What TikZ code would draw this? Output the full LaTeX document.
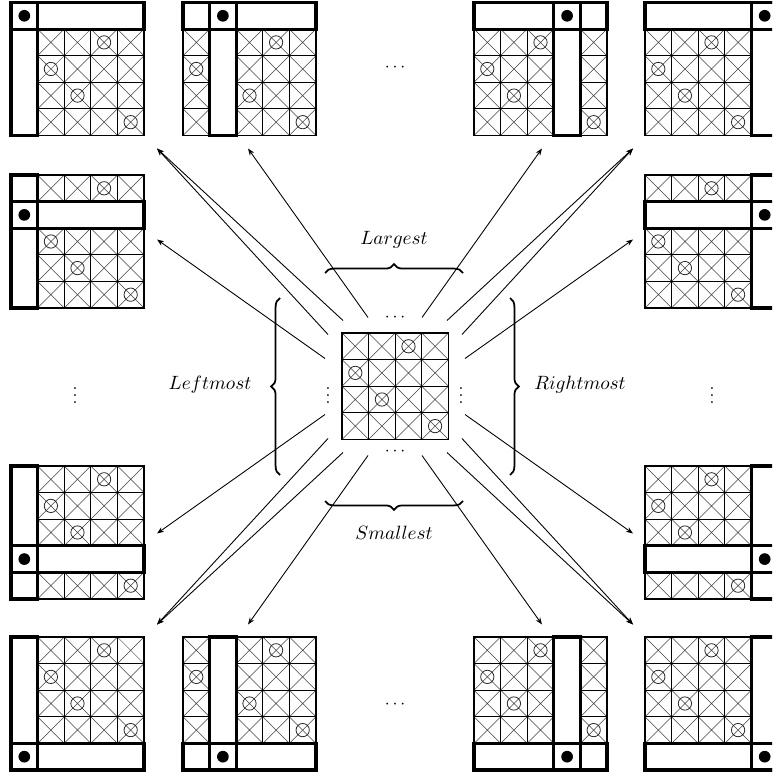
\documentclass[tikz,border=0pt]{standalone}
\usetikzlibrary{arrows.meta,decorations.pathreplacing}

% 4x4 grid of crossed cells; #1 = inserted column, #2 = inserted row (9 = none)
\newcommand{\crossgrid}[2]{%
  \foreach \k in {0,...,3}{
    \foreach \l in {0,...,3}{
      \pgfmathtruncatemacro\pc{\k+(\k>=#1)}
      \pgfmathtruncatemacro\pr{\l+(\l>=#2)}
      \draw[diag] (\pc,\pr) -- ++(1,1) (\pc+1,\pr) -- ++(-1,1);
      \draw[cell] (\pc,\pr) rectangle ++(1,1);
    }
  }
  \foreach \k/\l in {2/0,0/1,1/2,3/3}{
    \pgfmathtruncatemacro\pc{\k+(\k>=#1)}
    \pgfmathtruncatemacro\pr{\l+(\l>=#2)}
    \draw[ring] (\pc+.5,\pr+.5) circle[radius=.25];
  }
}

% grid with one extra row and column; #1 name, (#2,#3) top left, #4 column, #5 row
\newcommand{\panel}[5]{%
  \begin{scope}[shift={(#2,#3)}, x=0.532cm, y=-0.532cm]
    \coordinate (#1) at (2.5,2.5);
    \crossgrid{#4}{#5}
    \draw[band] (#4,0) rectangle ++(1,5);
    \draw[band] (0,#5) rectangle ++(5,1);
    \fill (#4+.5,#5+.5) circle[radius=.22];
  \end{scope}
}

\begin{document}
\begin{tikzpicture}[
  x=0.02cm, y=-0.02cm,
  cell/.style={line width=.7pt},
  diag/.style={line width=.3pt, black!75},
  ring/.style={line width=.45pt, black!85},
  band/.style={line width=1.8pt},
  arrow/.style={-{Stealth[length=4pt, width=3pt]}, line width=.5pt},
  curly/.style={decorate, decoration={brace, amplitude=5pt}, line width=1pt},
  label/.style={font=\fontsize{11}{13}\selectfont}
]
  \useasboundingbox (0,0) rectangle (772,776);
  \clip (0,0) rectangle (772,776);

  \panel{p11}{11}{2.5}{0}{0}
  \panel{p12}{183}{2.5}{1}{0}
  \panel{p13}{474}{2.5}{3}{0}
  \panel{p14}{645}{2.5}{4}{0}
  \panel{p21}{11}{175}{0}{1}
  \panel{p24}{645}{175}{4}{1}
  \panel{p31}{11}{466}{0}{3}
  \panel{p34}{645}{466}{4}{3}
  \panel{p41}{11}{637}{0}{4}
  \panel{p42}{183}{637}{1}{4}
  \panel{p43}{474}{637}{3}{4}
  \panel{p44}{645}{637}{4}{4}

  \begin{scope}[shift={(342,333)}, x=0.532cm, y=-0.532cm]
    \crossgrid{9}{9}
  \end{scope}
  \coordinate (m) at (395,386.5);

  \node (up) at (395,318) {$\cdots$};
  \node (down) at (395,452) {$\cdots$};
  \node (left) at (328,390) {$\vdots$};
  \node (right) at (461,390) {$\vdots$};
  \node (top) at (395,68) {$\cdots$};
  \node (bottom) at (395,705) {$\cdots$};
  \node (west) at (75,390) {$\vdots$};
  \node (east) at (712,390) {$\vdots$};

  \draw[curly] (325,273) -- (463,273);
  \draw[curly] (463,501) -- (325,501);
  \draw[curly] (280,475) -- (280,298);
  \draw[curly] (510,298) -- (510,475);
  \node[label] (largest) at (394,240) {$Largest$};
  \node[label] (smallest) at (394,533) {$Smallest$};
  \node[label] (leftmost) at (210,385) {$Leftmost$};
  \node[label] (rightmost) at (580,385) {$Rightmost$};

  \foreach \q/\sx/\sy in {nw/-1/-1, ne/1/-1, sw/-1/1, se/1/1}{
    \coordinate (\q-corner) at ([shift={(\sx*238,\sy*238)}]m);
    \coordinate (\q-row) at ([shift={(\sx*147,\sy*238)}]m);
    \coordinate (\q-col) at ([shift={(\sx*238,\sy*147)}]m);
    \coordinate (\q-s1) at ([shift={(\sx*52,\sy*66)}]m);
    \coordinate (\q-s2) at ([shift={(\sx*67,\sy*52)}]m);
    \coordinate (\q-s3) at ([shift={(\sx*27,\sy*69)}]m);
    \coordinate (\q-s4) at ([shift={(\sx*70,\sy*28)}]m);
  }
  \foreach \q in {nw,ne,sw,se}{
    \draw[arrow] (\q-s1) -- (\q-corner);
    \draw[arrow] (\q-s2) -- (\q-corner);
    \draw[arrow] (\q-s3) -- (\q-row);
    \draw[arrow] (\q-s4) -- (\q-col);
  }
\end{tikzpicture}
\end{document}
